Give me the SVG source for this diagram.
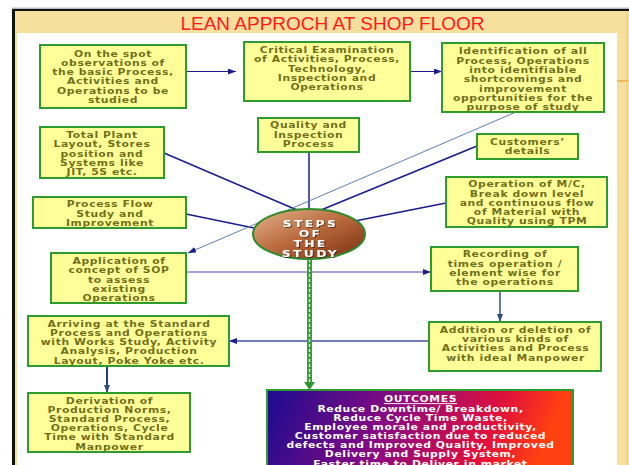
<svg xmlns="http://www.w3.org/2000/svg" width="629" height="465" viewBox="0 0 629 465">
<defs>
<style>
.bx{fill:#FFFF99;stroke:#2E9B2E;stroke-width:2}
.t{font-family:"DejaVu Sans",Verdana,sans-serif;font-weight:bold;font-size:9px;letter-spacing:0.5px;fill:#70701A;text-anchor:middle}
.w{font-family:"DejaVu Sans",Verdana,sans-serif;font-weight:bold;font-size:9px;letter-spacing:0.5px;fill:#FFFFFF;text-anchor:middle}
.st{font-family:"DejaVu Sans",Verdana,sans-serif;font-weight:bold;font-size:9.5px;letter-spacing:1.8px;text-anchor:middle;fill:#FFFFFF}
.nv{fill:none;stroke:#1C1C8C;stroke-width:1.5}
</style>
<filter id="sh" x="-20%" y="-20%" width="140%" height="140%">
<feDropShadow dx="0.8" dy="0.8" stdDeviation="0.4" flood-color="#3A1805" flood-opacity="0.8"/>
</filter>
<marker id="an" markerWidth="8" markerHeight="6" refX="8" refY="3" orient="auto" markerUnits="userSpaceOnUse"><path d="M0,0 L8,3 L0,6 z" fill="#1C1C8C"/></marker>
<marker id="as" markerWidth="8" markerHeight="6" refX="8" refY="3" orient="auto" markerUnits="userSpaceOnUse"><path d="M0,0 L8,3 L0,6 z" fill="#2F4F7F"/></marker>
<linearGradient id="eg" x1="0" y1="0" x2="1" y2="1">
<stop offset="0" stop-color="#E6B48C"/>
<stop offset="0.5" stop-color="#B8683C"/>
<stop offset="1" stop-color="#7A2E10"/>
</linearGradient>
<linearGradient id="og" gradientUnits="userSpaceOnUse" x1="267" y1="390" x2="520" y2="500">
<stop offset="0" stop-color="#1A0C90"/>
<stop offset="0.45" stop-color="#8A0A82"/>
<stop offset="0.8" stop-color="#E0103C"/>
<stop offset="1" stop-color="#FF4010"/>
</linearGradient>
</defs>

<!-- frame -->
<rect x="12" y="9" width="617" height="456" fill="#F7DF9E"/>
<line x1="12" y1="8.2" x2="629" y2="8.2" stroke="#9A9A9A" stroke-width="1"/>
<line x1="12" y1="10" x2="629" y2="10" stroke="#111" stroke-width="2.2"/>
<line x1="13.5" y1="9" x2="13.5" y2="465" stroke="#111" stroke-width="3"/>
<rect x="17" y="33" width="600" height="432" fill="#FFFFFF"/>
<line x1="617" y1="81" x2="629" y2="81" stroke="#F0A848" stroke-width="1.5"/>
<line x1="627" y1="11" x2="627" y2="465" stroke="#E8C888" stroke-width="1"/>
<text x="332.5" y="30" font-family="'Liberation Sans',Arial,sans-serif" font-size="19" fill="#FF1A1A" text-anchor="middle">LEAN APPROCH AT SHOP FLOOR</text>

<!-- connectors -->
<g id="connectors">
<line x1="186" y1="71.5" x2="236" y2="71.5" stroke="#1C1C8C" stroke-width="1" marker-end="url(#an)"/>
<line x1="410" y1="71.5" x2="442" y2="71.5" stroke="#1C1C8C" stroke-width="1" marker-end="url(#an)"/>
<line class="nv" x1="164" y1="153" x2="297" y2="210"/>
<line class="nv" x1="186" y1="214" x2="254" y2="228"/>
<line class="nv" x1="309" y1="152" x2="309" y2="210"/>
<line class="nv" x1="477" y1="146" x2="321" y2="210"/>
<line class="nv" x1="446" y1="203" x2="355" y2="221"/>
<line x1="516" y1="112" x2="188" y2="253" stroke="#5B7FB5" stroke-width="1" marker-end="url(#an)"/>
<line x1="186" y1="272" x2="431" y2="272" stroke="#4848B0" stroke-width="1" marker-end="url(#an)"/>
<line x1="500" y1="291" x2="500" y2="322" stroke="#2F4F7F" stroke-width="1.5" marker-end="url(#as)"/>
<line x1="429" y1="341" x2="229" y2="341" stroke="#4050A0" stroke-width="1.5" marker-end="url(#an)"/>
<line x1="107" y1="366" x2="107" y2="393" stroke="#1F3F7F" stroke-width="2" marker-end="url(#as)"/>
<line x1="309.5" y1="259" x2="309.5" y2="384" stroke="#34A034" stroke-width="5"/>
<line x1="309.5" y1="259" x2="309.5" y2="384" stroke="#FFFFFF" stroke-width="1.3" stroke-dasharray="3 2"/>
<path d="M304,382 L315,382 L309.5,390 z" fill="#2E962E"/>
</g>

<g id="n1"><rect class="bx" x="40" y="45" width="146" height="63"/>
<text class="t" transform="translate(113 0) scale(1.2 1)"><tspan x="0" y="57">On the spot</tspan><tspan x="0" y="66.2">observations of</tspan><tspan x="0" y="75.3">the basic Process,</tspan><tspan x="0" y="84.4">Activities and</tspan><tspan x="0" y="93.6">Operations to be</tspan><tspan x="0" y="102.7">studied</tspan></text></g>

<g id="n2"><rect class="bx" x="244" y="42" width="166" height="59"/>
<text class="t" transform="translate(327 0) scale(1.2 1)"><tspan x="0" y="53">Critical Examination</tspan><tspan x="0" y="62.5">of Activities, Process,</tspan><tspan x="0" y="71.8">Technology,</tspan><tspan x="0" y="81">Inspection and</tspan><tspan x="0" y="90.3">Operations</tspan></text></g>

<g id="n3"><rect class="bx" x="442" y="43" width="162" height="69"/>
<text class="t" transform="translate(523 0) scale(1.2 1)"><tspan x="0" y="54.5">Identification of all</tspan><tspan x="0" y="63.8">Process, Operations</tspan><tspan x="0" y="73.1">into identifiable</tspan><tspan x="0" y="82.4">shortcomings and</tspan><tspan x="0" y="91.7">improvement</tspan><tspan x="0" y="101">opportunities for the</tspan><tspan x="0" y="110.2">purpose of study</tspan></text></g>

<g id="n4"><rect class="bx" x="40" y="127" width="124" height="51"/>
<text class="t" transform="translate(102 0) scale(1.2 1)"><tspan x="0" y="137.8">Total Plant</tspan><tspan x="0" y="147.3">Layout, Stores</tspan><tspan x="0" y="156.7">position and</tspan><tspan x="0" y="166.1">Systems like</tspan><tspan x="0" y="175.5">JIT, 5S etc.</tspan></text></g>

<g id="n5"><rect class="bx" x="258" y="118" width="101" height="34"/>
<text class="t" transform="translate(308.5 0) scale(1.2 1)"><tspan x="0" y="128.5">Quality and</tspan><tspan x="0" y="137.8">Inspection</tspan><tspan x="0" y="147">Process</tspan></text></g>

<g id="n6"><rect class="bx" x="477" y="134" width="101" height="25"/>
<text class="t" transform="translate(527.5 0) scale(1.2 1)"><tspan x="0" y="145.2">Customers’</tspan><tspan x="0" y="154">details</tspan></text></g>

<g id="n7"><rect class="bx" x="446" y="177" width="161" height="50"/>
<text class="t" transform="translate(527 0) scale(1.2 1)"><tspan x="0" y="187.5">Operation of M/C,</tspan><tspan x="0" y="196.8">Break down level</tspan><tspan x="0" y="206">and continuous flow</tspan><tspan x="0" y="215.2">of Material with</tspan><tspan x="0" y="224.4">Quality using TPM</tspan></text></g>

<g id="n8"><rect class="bx" x="33" y="197" width="153" height="31"/>
<text class="t" transform="translate(110 0) scale(1.2 1)"><tspan x="0" y="207.5">Process Flow</tspan><tspan x="0" y="216.8">Study and</tspan><tspan x="0" y="225.7">Improvement</tspan></text></g>

<g id="n9"><rect class="bx" x="51" y="253" width="135" height="50"/>
<text class="t" transform="translate(119 0) scale(1.2 1)"><tspan x="0" y="264.2">Application of</tspan><tspan x="0" y="273.5">concept of SOP</tspan><tspan x="0" y="282.7">to assess</tspan><tspan x="0" y="291.9">existing</tspan><tspan x="0" y="301">Operations</tspan></text></g>

<g id="n10"><rect class="bx" x="431" y="247" width="147" height="44"/>
<text class="t" transform="translate(505 0) scale(1.2 1)"><tspan x="0" y="257.5">Recording of</tspan><tspan x="0" y="267">times operation /</tspan><tspan x="0" y="276.2">element wise for</tspan><tspan x="0" y="285.3">the operations</tspan></text></g>

<g id="n11"><rect class="bx" x="28" y="316" width="201" height="50"/>
<text class="t" transform="translate(129 0) scale(1.2 1)"><tspan x="0" y="326.8">Arriving at the  Standard</tspan><tspan x="0" y="336">Process and Operations</tspan><tspan x="0" y="345.2">with Works Study, Activity</tspan><tspan x="0" y="354.4">Analysis, Production</tspan><tspan x="0" y="363.7">Layout, Poke Yoke etc.</tspan></text></g>

<g id="n12"><rect class="bx" x="28" y="393" width="162" height="59"/>
<text class="t" transform="translate(109.5 0) scale(1.2 1)"><tspan x="0" y="403.6">Derivation of</tspan><tspan x="0" y="412.8">Production Norms,</tspan><tspan x="0" y="422">Standard Process,</tspan><tspan x="0" y="431.3">Operations, Cycle</tspan><tspan x="0" y="440.5">Time with Standard</tspan><tspan x="0" y="449.7">Manpower</tspan></text></g>

<g id="n13"><rect class="bx" x="429" y="322" width="172" height="49"/>
<text class="t" transform="translate(515.5 0) scale(1.2 1)"><tspan x="0" y="332.8">Addition or deletion of</tspan><tspan x="0" y="342.1">various kinds of</tspan><tspan x="0" y="351.3">Activities and Process</tspan><tspan x="0" y="360.6">with ideal Manpower</tspan></text></g>

<g id="n14"><rect x="267" y="390" width="306" height="100" fill="url(#og)" stroke="#2E9B2E" stroke-width="2"/>
<text class="w" transform="translate(420.5 0) scale(1.2 1)"><tspan x="0" y="402.3" text-decoration="underline">OUTCOMES</tspan><tspan x="0" y="411.8">Reduce Downtime/ Breakdown,</tspan><tspan x="0" y="420.9">Reduce Cycle Time Waste,</tspan><tspan x="0" y="430.1">Employee morale and productivity,</tspan><tspan x="0" y="439.2">Customer satisfaction due to reduced</tspan><tspan x="0" y="448.4">defects and Improved Quality, Improved</tspan><tspan x="0" y="457.5">Delivery and Supply System,</tspan><tspan x="0" y="466.6">Faster time to Deliver in market</tspan></text></g>

<g id="steps"><ellipse cx="309" cy="234" rx="56" ry="25" fill="url(#eg)" stroke="#2E8B2E" stroke-width="2"/>
<text class="st" filter="url(#sh)" transform="translate(310.5 0) scale(1.3 1)"><tspan x="0" y="227.5">STEPS</tspan><tspan x="0" y="237.5">OF</tspan><tspan x="0" y="247.5">THE</tspan><tspan x="0" y="257.5">STUDY</tspan></text></g>
</svg>
